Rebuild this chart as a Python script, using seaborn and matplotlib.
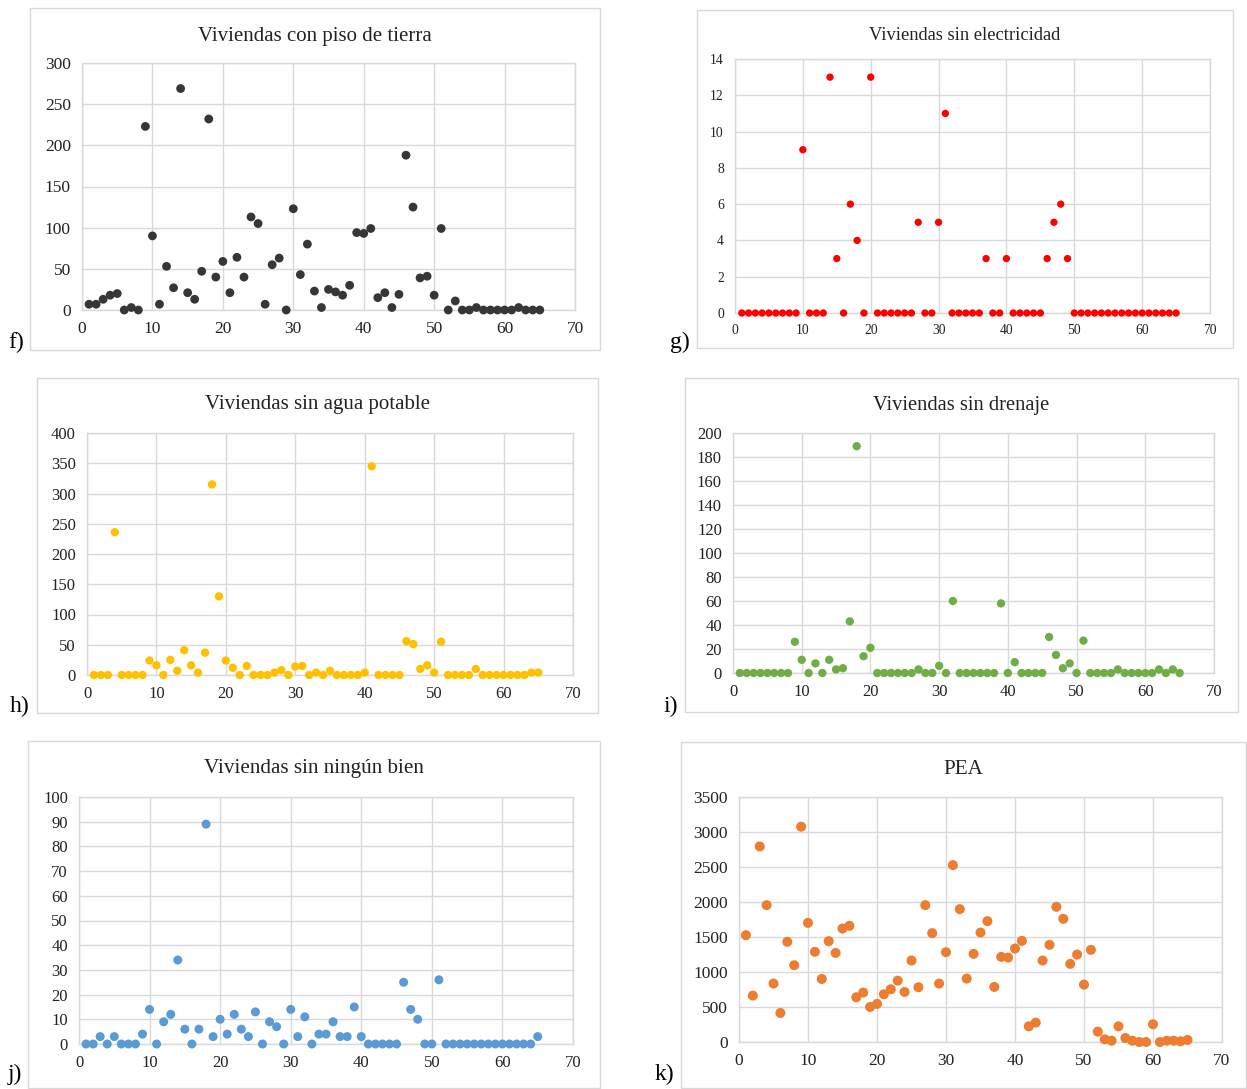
import matplotlib
matplotlib.use("Agg")
import matplotlib.pyplot as plt
import seaborn as sns
import pandas as pd
from matplotlib.patches import Rectangle

# ---------------- data ----------------
municipio = list(range(1, 66))

piso_tierra = [7, 7, 13, 18, 20, 0, 3, 0, 223, 90, 7, 53, 27, 269, 21, 13, 47, 232, 40, 59,
               21, 64, 40, 113, 105, 7, 55, 63, 0, 123, 43, 80, 23, 3, 25, 22, 18, 30, 94, 93,
               99, 15, 21, 3, 19, 188, 125, 39, 41, 18, 99, 0, 11, 0, 0, 3, 0, 0, 0, 0,
               0, 3, 0, 0, 0]

sin_electricidad = [0, 0, 0, 0, 0, 0, 0, 0, 0, 9, 0, 0, 0, 13, 3, 0, 6, 4, 0, 13,
                    0, 0, 0, 0, 0, 0, 5, 0, 0, 5, 11, 0, 0, 0, 0, 0, 3, 0, 0, 3,
                    0, 0, 0, 0, 0, 3, 5, 6, 3, 0, 0, 0, 0, 0, 0, 0, 0, 0, 0, 0,
                    0, 0, 0, 0, 0]

sin_agua = [0, 0, 0, 236, 0, 0, 0, 0, 24, 16, 0, 25, 7, 41, 16, 4, 37, 315, 130, 24,
            12, 0, 15, 0, 0, 0, 4, 8, 0, 14, 15, 0, 4, 0, 7, 0, 0, 0, 0, 4,
            345, 0, 0, 0, 0, 56, 51, 10, 16, 4, 55, 0, 0, 0, 0, 10, 0, 0, 0, 0,
            0, 0, 0, 4, 4]

sin_drenaje = [0, 0, 0, 0, 0, 0, 0, 0, 26, 11, 0, 8, 0, 11, 3, 4, 43, 189, 14, 21,
               0, 0, 0, 0, 0, 0, 3, 0, 0, 6, 0, 60, 0, 0, 0, 0, 0, 0, 58, 0,
               9, 0, 0, 0, 0, 30, 15, 4, 8, 0, 27, 0, 0, 0, 0, 3, 0, 0, 0, 0,
               0, 3, 0, 3, 0]

sin_bien = [0, 0, 3, 0, 3, 0, 0, 0, 4, 14, 0, 9, 12, 34, 6, 0, 6, 89, 3, 10,
            4, 12, 6, 3, 13, 0, 9, 7, 0, 14, 3, 11, 0, 4, 4, 9, 3, 3, 15, 3,
            0, 0, 0, 0, 0, 25, 14, 10, 0, 0, 26, 0, 0, 0, 0, 0, 0, 0, 0, 0,
            0, 0, 0, 0, 3]

pea = [1526, 663, 2794, 1955, 835, 415, 1431, 1097, 3076, 1702, 1288, 901, 1440, 1273, 1621, 1660, 639, 706, 501, 544,
       682, 753, 877, 715, 1164, 782, 1955, 1555, 835, 1283, 2527, 1898, 906, 1259, 1564, 1726, 787, 1216, 1206, 1335,
       1445, 224, 277, 1164, 1388, 1931, 1760, 1116, 1249, 820, 1316, 148, 38, 19, 224, 57, 19, 0, 0, 253,
       0, 19, 19, 10, 29]

titles = ["Viviendas con piso de tierra", "Viviendas sin electricidad", "Viviendas sin agua potable",
          "Viviendas sin drenaje", "Viviendas sin ningún bien", "PEA"]
panel_labels = ["f)", "g)", "h)", "i)", "j)", "k)"]
y_max = [300, 14, 400, 200, 100, 3500]
y_step = [50, 2, 50, 20, 10, 500]
colors = ["#363636", "#FF0000", "#FFC000", "#70AD47", "#5B9BD5", "#ED7D31"]
series = [piso_tierra, sin_electricidad, sin_agua, sin_drenaje, sin_bien, pea]

# ---------------- layout (pixels) ----------------
W, H = 1247, 1089
plot_boxes = [(82, 63, 575, 310), (735, 59, 1210, 313), (87, 433, 573, 675),
              (733, 433, 1214, 673), (79, 797, 573, 1044), (739, 797, 1222, 1042)]
frames = [(30, 8, 600, 350), (697, 10, 1233, 348), (37, 378, 598, 713),
          (685, 378, 1238, 712), (28, 741, 600, 1088), (681, 742, 1246, 1088)]
title_y = [36, 35, 405, 406, 769, 769]
label_pos = [(8, 342), (670, 342), (10, 706), (663, 706), (8, 1074), (655, 1074)]
tick_fs = [12.5, 9.8, 12, 12, 12, 12.5]
title_fs = [15, 13.3, 15, 14.8, 15.2, 15.2]
msize = [40, 28, 36, 36, 42, 52]

sns.set_theme(style="white")
plt.rcParams['font.family'] = ['Liberation Serif', 'DejaVu Serif']

fig = plt.figure(figsize=(W / 100, H / 100), dpi=100)

for (fx0, fy0, fx1, fy1) in frames:
    fig.patches.append(Rectangle((fx0 / W, 1 - fy1 / H), (fx1 - fx0) / W, (fy1 - fy0) / H,
                                 transform=fig.transFigure, fill=False,
                                 edgecolor="#d9d9d9", linewidth=1.0, zorder=0))

for i in range(6):
    x0, y0, x1, y1 = plot_boxes[i]
    ax = fig.add_axes([x0 / W, 1 - y1 / H, (x1 - x0) / W, (y1 - y0) / H])
    df = pd.DataFrame({"municipio": municipio, "valor": series[i]})
    sns.scatterplot(data=df, x="municipio", y="valor", ax=ax, color=colors[i],
                    s=msize[i], edgecolor="none", clip_on=False, zorder=3)
    ax.set_xlim(0, 70)
    ax.set_ylim(0, y_max[i])
    ax.set_xticks(range(0, 71, 10))
    ax.set_yticks(range(0, y_max[i] + 1, y_step[i]))
    ax.grid(True, color="#d9d9d9", linewidth=1.0)
    ax.set_axisbelow(True)
    for sp in ax.spines.values():
        sp.set_visible(True)
        sp.set_color("#d9d9d9")
        sp.set_linewidth(1.0)
    ax.tick_params(axis="both", length=0, pad=8, labelsize=tick_fs[i], labelcolor="#222222")
    ax.set_xlabel("")
    ax.set_ylabel("")
    fx0, fy0, fx1, fy1 = frames[i]
    fig.text((fx0 + fx1) / 2 / W, 1 - title_y[i] / H, titles[i], fontsize=title_fs[i],
             color="#222222", ha="center", va="center")
    fig.text(label_pos[i][0] / W, 1 - label_pos[i][1] / H, panel_labels[i],
             fontsize=17, color="black", va="center", ha="left")

fig.savefig("out.png", dpi=100)
